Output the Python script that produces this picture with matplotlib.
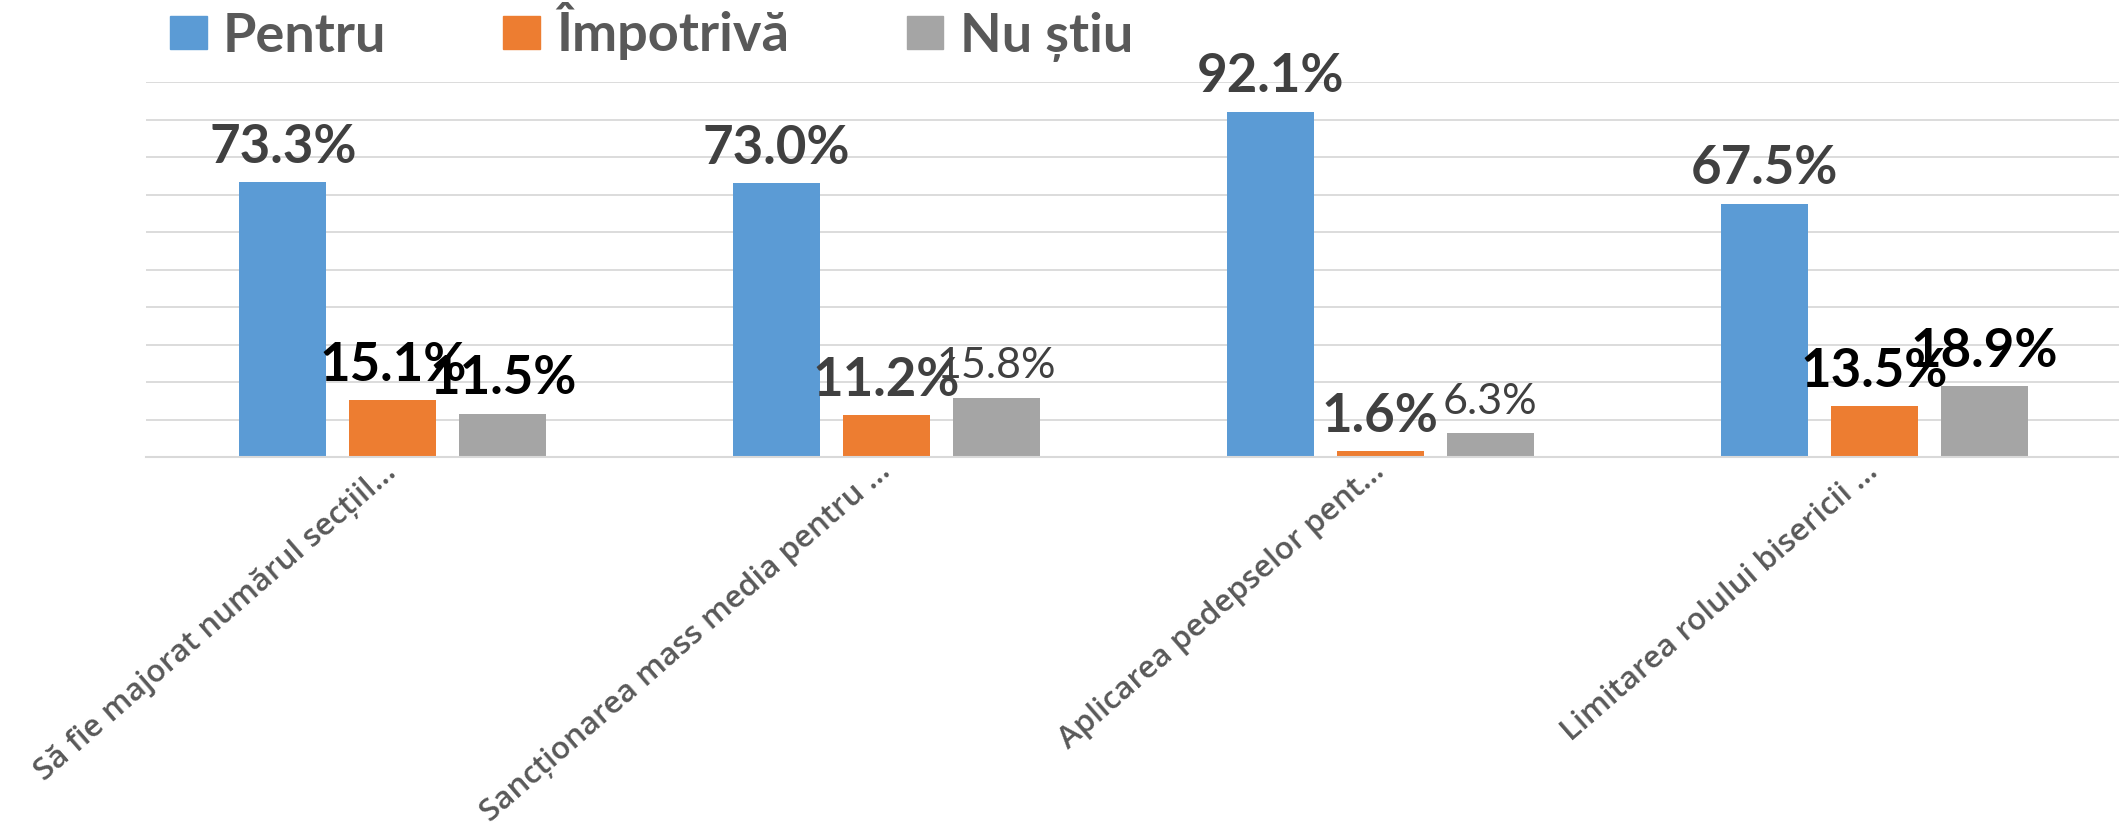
import matplotlib
matplotlib.use('Agg')
import matplotlib.pyplot as plt
from matplotlib.patches import Patch
import numpy as np

# date
categories = ['Să fie majorat numărul secțiil…',
              'Sancționarea mass media pentru …',
              'Aplicarea pedepselor pent…',
              'Limitarea rolului bisericii …']
series = ['Pentru', 'Împotrivă', 'Nu știu']
pentru = [73.3, 73.0, 92.1, 67.5]
impotriva = [15.1, 11.2, 1.6, 13.5]
nu_stiu = [11.5, 15.8, 6.3, 18.9]

colors = ['#5B9BD5', '#ED7D31', '#A5A5A5']
DARK = '#404040'
# stil etichete (culoare, grosime) pe serie / categorie
lab_color = [[DARK] * 4,
             ['black', DARK, DARK, 'black'],
             ['black', DARK, DARK, 'black']]
lab_weight = [['bold'] * 4,
              ['bold'] * 4,
              ['bold', 'normal', 'normal', 'bold']]

W, H = 2119, 836
fig = plt.figure(figsize=(W / 100, H / 100), dpi=100)
ax = fig.add_axes([146 / W, 1 - 457 / H, 1975 / W, 375 / H])

x = np.arange(len(categories))
step = 0.2228
bw = 0.176
values = [pentru, impotriva, nu_stiu]
for i, vals in enumerate(values):
    xs = x + (i - 1) * step
    ax.bar(xs, vals, bw, color=colors[i], zorder=2)
    for j, v in enumerate(vals):
        w = lab_weight[i][j]
        ax.annotate('%.1f%%' % v, (xs[j], v), xytext=(0, 14), textcoords='offset points',
                    ha='center', va='baseline', family='Lato', weight=w,
                    fontsize=38 if w == 'bold' else 31, color=lab_color[i][j], zorder=3)

ax.set_xlim(-0.5, 3.5)
ax.set_ylim(0, 100)
ax.set_yticks(np.arange(0, 101, 10))
ax.yaxis.grid(True, color='#D9D9D9', linewidth=1.3)
ax.set_axisbelow(True)
ax.tick_params(axis='y', length=0, labelleft=False)
for s in ['top', 'left', 'right']:
    ax.spines[s].set_visible(False)
ax.spines['bottom'].set_color('#D9D9D9')
ax.spines['bottom'].set_linewidth(1.5)

ax.set_xticks(x)
ax.set_xticklabels(categories, rotation=41, ha='right', va='center', rotation_mode='anchor',
                   fontsize=22.5, family='Open Sans', weight='semibold', color='#595959')
ax.tick_params(axis='x', length=0, pad=8)

handles = [Patch(color=c) for c in colors]
fig.legend(handles, series, loc='center left', bbox_to_anchor=(170 / W, 1 - 32 / H),
           ncol=3, frameon=False, prop={'family': 'Lato', 'weight': 'bold', 'size': 39},
           labelcolor='#595959', handlelength=0.68, handleheight=0.57,
           handletextpad=0.3, columnspacing=2.16, borderaxespad=0, borderpad=0)

plt.savefig('out.png', dpi=100)
